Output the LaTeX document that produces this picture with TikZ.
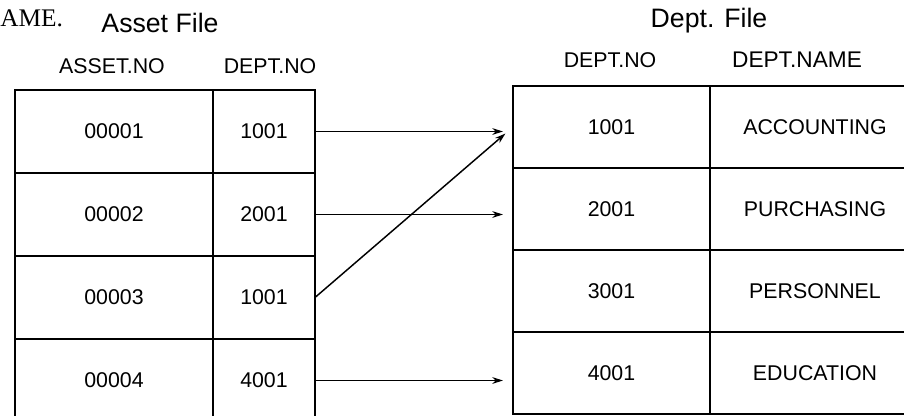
\documentclass[tikz,border=0pt]{standalone}
\usepackage{fontspec}
\setmainfont{Liberation Sans}
\newfontfamily\serifrm{Liberation Serif}
\usetikzlibrary{arrows.meta}

\begin{document}
\begin{tikzpicture}[x=0.75pt, y=-0.75pt,
  cell/.style={draw, line width=1.5pt, inner sep=0pt, outer sep=0pt,
               minimum height=62.25pt, font=\fontsize{16}{18}\selectfont},
  wide/.style={cell, minimum width=148.5pt},
  narrow/.style={cell, minimum width=76.5pt},
  head/.style={font=\fontsize{16}{18}\selectfont},
  title/.style={font=\fontsize{20}{22}\selectfont},
  link/.style={line width=1.1pt, -{Stealth[length=8pt,width=5pt]}, shorten >=7.5pt}]
\useasboundingbox (0,0) rectangle (904,415);
\clip (0,0) rectangle (904,415);

% titles
\node[anchor=west, inner sep=0pt, font=\serifrm\fontsize{19}{20}\selectfont] (cut) at (0,18) {AME.};
\node[title] (assetfile) at (160,23) {Asset File};
\node[title] (deptfile) at (709,21) {Dept. File};

% asset file
\node[head] (h1) at (112,66) {ASSET.NO};
\node[head] (h2) at (270,66) {DEPT.NO};

\node[wide] (an1) at (114,131.5) {00001};
\node[narrow] (ad1) at (264,131.5) {1001};
\node[wide] (an2) at (114,214.5) {00002};
\node[narrow] (ad2) at (264,214.5) {2001};
\node[wide] (an3) at (114,297.5) {00003};
\node[narrow] (ad3) at (264,297.5) {1001};
\node[wide] (an4) at (114,380.5) {00004};
\node[narrow] (ad4) at (264,380.5) {4001};

% dept file
\node[head] (h3) at (610,60) {DEPT.NO};
\node[head, font=\fontsize{17}{18}\selectfont] (h4) at (797,60) {DEPT.NAME};

\node[cell, minimum width=147.75pt, minimum height=61.5pt] (dn1) at (611.5,127) {1001};
\node[cell, minimum width=157.5pt, minimum height=61.5pt] (dm1) at (815,127) {ACCOUNTING};
\node[cell, minimum width=147.75pt, minimum height=61.5pt] (dn2) at (611.5,209) {2001};
\node[cell, minimum width=157.5pt, minimum height=61.5pt] (dm2) at (815,209) {PURCHASING};
\node[cell, minimum width=147.75pt, minimum height=61.5pt] (dn3) at (611.5,291) {3001};
\node[cell, minimum width=157.5pt, minimum height=61.5pt] (dm3) at (815,291) {PERSONNEL};
\node[cell, minimum width=147.75pt, minimum height=61.5pt] (dn4) at (611.5,373) {4001};
\node[cell, minimum width=157.5pt, minimum height=61.5pt] (dm4) at (815,373) {EDUCATION};

% links
\draw[link] (ad1.east) -- (ad1.east -| dn1.west);
\draw[link] (ad2.east) -- (ad2.east -| dn2.west);
\draw[link] (ad3.east) -- (dn1.west);
\draw[link] (ad4.east) -- (ad4.east -| dn4.west);
\end{tikzpicture}
\end{document}
